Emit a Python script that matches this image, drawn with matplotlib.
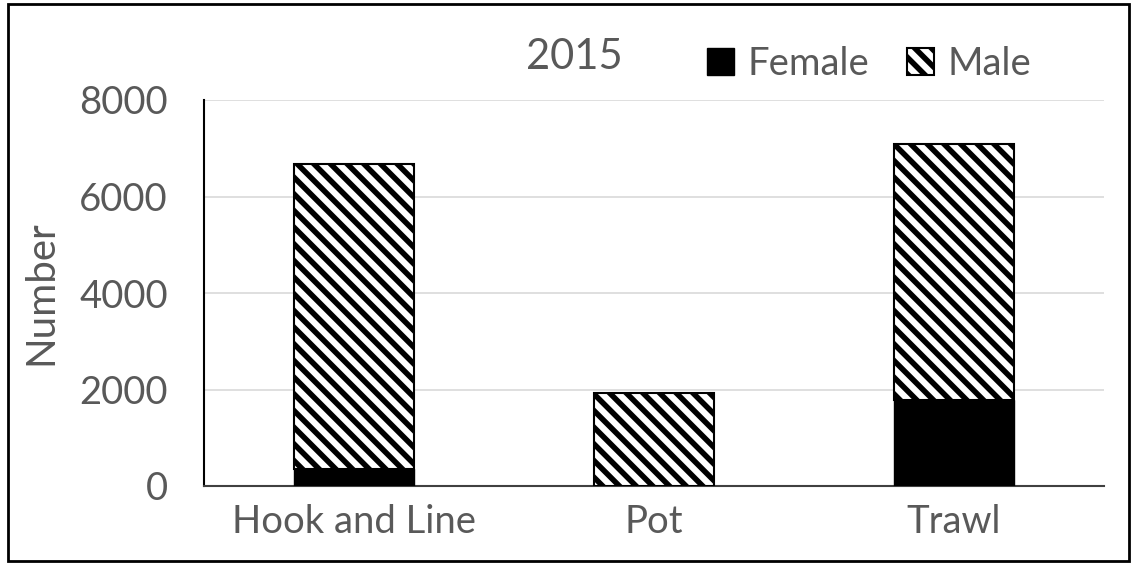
import matplotlib
matplotlib.use('Agg')
import matplotlib.pyplot as plt
from matplotlib.patches import Rectangle
import numpy as np

# data
categories = ['Hook and Line', 'Pot', 'Trawl']
female = [350, 0, 1780]
male = [6320, 1930, 5310]
title = '2015'

txt_color = '#595959'
plt.rcParams['font.family'] = ['Lato', 'DejaVu Sans']
plt.rcParams['hatch.linewidth'] = 4.0
plt.rcParams['hatch.color'] = 'black'

fig = plt.figure(figsize=(11.35, 5.63), dpi=100)
ax = fig.add_axes([204/1135, 1 - 486/563, 900/1135, 386/563])

x = np.arange(len(categories))
ax.bar(x, female, width=0.4, color='black', edgecolor='black', linewidth=1, label='Female', zorder=3)
ax.bar(x, male, width=0.4, bottom=female, color='white', edgecolor='black',
       hatch='\\\\', linewidth=1.5, label='Male', zorder=3)

ax.set_xlim(-0.5, 2.5)
ax.set_ylim(0, 8000)
ax.set_yticks([0, 2000, 4000, 6000, 8000])
ax.set_xticks(x)
ax.set_xticklabels(categories)
ax.tick_params(axis='both', length=0, labelsize=27.5, labelcolor=txt_color)
ax.tick_params(axis='y', pad=26)
ax.tick_params(axis='x', pad=13)
ax.grid(axis='y', color='#d9d9d9', linewidth=1.2, zorder=0)
ax.set_axisbelow(True)
for s in ['top', 'right']:
    ax.spines[s].set_visible(False)
ax.spines['left'].set_color('black')
ax.spines['left'].set_linewidth(1.5)
ax.spines['bottom'].set_color('#404040')
ax.spines['bottom'].set_linewidth(1.5)
ax.set_ylabel('Number', fontsize=29, color=txt_color, labelpad=14)

fig.text(574/1135, 1 - 57/563, title, fontsize=30, color=txt_color, ha='center', va='center')
ax.legend(loc='center', bbox_to_anchor=(869/1135, 1 - 64/563), bbox_transform=fig.transFigure,
          ncol=2, frameon=False, fontsize=27.5, labelcolor=txt_color,
          handlelength=0.7, handleheight=0.7, handletextpad=0.35, columnspacing=1.0)

# outer frame
fig.patches.append(Rectangle((8/1135, 1 - 561/563), 1121/1135, 557/563, transform=fig.transFigure,
                             fill=False, edgecolor='black', linewidth=2))

fig.savefig('out.png', dpi=100)
